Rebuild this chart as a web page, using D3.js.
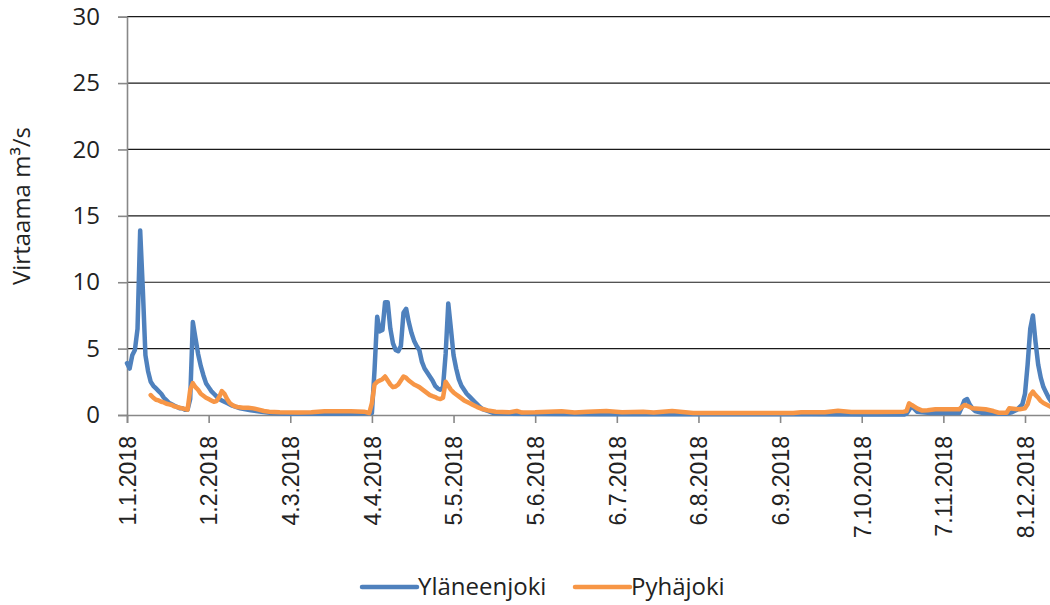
<!DOCTYPE html>
<html>
<head>
<meta charset="utf-8">
<script src="https://cdn.jsdelivr.net/npm/d3@7"></script>
<style>
  html, body { margin: 0; padding: 0; background: #fff; }
  svg { display: block; }
</style>
</head>
<body>
<svg id="chart" width="1050" height="605"></svg>
<script>
// ---- Data (day of year 2018, 0 = 1.1.2018) ----
const yTicks = [0, 5, 10, 15, 20, 25, 30];
const xTickDays = [0, 31, 62, 93, 124, 155, 186, 217, 248, 279, 310, 341];
const xTickLabels = ["1.1.2018", "1.2.2018", "4.3.2018", "4.4.2018", "5.5.2018", "5.6.2018",
                     "6.7.2018", "6.8.2018", "6.9.2018", "7.10.2018", "7.11.2018", "8.12.2018"];
const seriesNames = ["Yläneenjoki", "Pyhäjoki"];

const ylaDays = [0,1,2,3,4,5,6,7,8,9,10,11,12,13,14,15,16,17,18,19,20,21,22,23,24,25,26,27,28,29,30,31,32,33,34,35,36,37,38,40,43,47,51,55,60,70,80,88,93,
  94,95,96,97,98,99,100,101,102,103,104,105,106,107,108,109,110,111,112,113,114,115,116,117,118,119,120,121,122,123,124,125,126,127,128,129,130,131,132,133,134,135,137,139,145,160,180,200,220,240,260,280,295,
  296,297,298,299,300,305,316,317,318,319,320,321,322,325,334,336,338,340,341,342,343,344,345,346,347,348,349,350,351,352];
const ylaVals = [3.9,3.5,4.5,4.9,6.5,13.9,9.5,4.5,3.3,2.5,2.2,2.0,1.8,1.6,1.3,1.1,0.9,0.8,0.7,0.6,0.5,0.5,0.4,0.4,1.2,7.0,5.8,4.6,3.7,3.0,2.4,2.1,1.8,1.6,1.4,1.2,1.1,1.0,0.9,0.7,0.5,0.35,0.25,0.15,0.1,0.1,0.1,0.12,0.15,
  3.4,7.4,6.3,6.4,8.5,8.5,6.5,5.4,4.9,4.8,5.2,7.7,8.0,7.0,6.2,5.6,5.2,4.9,4.0,3.5,3.2,2.9,2.6,2.2,2.0,1.9,2.1,4.6,8.4,6.5,4.5,3.5,2.7,2.2,1.9,1.6,1.4,1.2,1.0,0.8,0.6,0.45,0.3,0.15,0.1,0.08,0.06,0.05,0.05,0.05,0.05,0.03,0.03,
  0.1,0.4,0.65,0.45,0.25,0.15,0.15,0.6,1.1,1.2,0.8,0.5,0.3,0.15,0.1,0.2,0.4,0.8,1.6,3.8,6.5,7.5,5.5,3.8,2.8,2.1,1.7,1.3,1.0,0.9];

const pyhaDays = [9,10,11,12,13,14,15,16,17,18,19,20,21,22,23,24,25,26,27,28,29,30,31,32,33,34,35,36,37,38,39,40,41,42,44,46,48,50,52,54,58,65,70,75,80,85,90,92,
  93,94,95,96,97,98,99,100,101,102,103,104,105,106,107,108,109,110,111,112,113,114,115,116,117,118,119,120,121,122,123,124,125,126,127,128,129,130,131,132,133,135,137,140,145,148,150,155,160,165,170,175,182,188,196,200,207,212,
  215,230,253,256,265,270,275,285,295,296,297,298,299,300,302,304,307,316,317,318,319,321,326,329,331,334,335,339,341,342,343,344,345,346,347,348,350,351,352];
const pyhaVals = [1.5,1.3,1.15,1.1,1.0,0.95,0.85,0.8,0.75,0.65,0.6,0.55,0.5,0.45,0.4,1.9,2.4,2.1,1.9,1.6,1.45,1.3,1.2,1.1,1.0,1.05,1.35,1.8,1.6,1.2,0.9,0.75,0.65,0.6,0.55,0.55,0.5,0.4,0.3,0.25,0.2,0.18,0.2,0.28,0.28,0.28,0.25,0.15,
  0.9,2.3,2.5,2.6,2.7,2.9,2.6,2.3,2.1,2.15,2.3,2.6,2.9,2.8,2.6,2.45,2.3,2.2,2.1,1.95,1.8,1.65,1.5,1.42,1.35,1.25,1.2,1.3,2.5,2.2,1.9,1.7,1.55,1.4,1.25,1.1,1.0,0.9,0.8,0.7,0.6,0.45,0.35,0.25,0.2,0.3,0.18,0.2,0.25,0.28,0.18,0.25,0.3,0.2,0.25,0.18,0.3,0.2,
  0.15,0.15,0.15,0.2,0.2,0.32,0.22,0.22,0.25,0.3,0.88,0.75,0.63,0.5,0.33,0.35,0.43,0.43,0.6,0.75,0.7,0.5,0.43,0.3,0.17,0.17,0.5,0.43,0.5,0.8,1.5,1.76,1.5,1.3,1.05,0.9,0.7,0.6,0.55];

// ---- Layout ----
const svg = d3.select("#chart");
const x = d3.scaleLinear().domain([0, 364]).range([127, 127 + 364 * (898 / 341)]);
const y = d3.scaleLinear().domain([0, 30]).range([415, 16.7]);

const blue = "#4f81bd", orange = "#f79646";
const tickFont = "'Open Sans', 'Noto Sans', sans-serif";

// gridlines
svg.append("g").selectAll("line").data(yTicks.filter(d => d > 0)).join("line")
  .attr("x1", 127).attr("x2", 1050)
  .attr("y1", d => y(d)).attr("y2", d => y(d))
  .attr("stroke", "#1a1a1a").attr("stroke-width", 1.2);

// y axis
const yAxis = svg.append("g").attr("transform", "translate(127,0)")
  .call(d3.axisLeft(y).tickValues(yTicks).tickSize(9).tickPadding(18).tickFormat(d3.format("d")));
yAxis.select(".domain").attr("stroke", "#888").attr("stroke-width", 1.6);
yAxis.selectAll(".tick line").attr("stroke", "#888").attr("stroke-width", 1.6);
yAxis.selectAll(".tick text").attr("font-family", tickFont).attr("font-size", 24).attr("fill", "#222");

// x axis
const xAxis = svg.append("g").attr("transform", "translate(0,415)")
  .call(d3.axisBottom(x).tickValues(xTickDays).tickSize(8).tickFormat((d, i) => xTickLabels[i]));
xAxis.select(".domain").attr("stroke", "#888").attr("stroke-width", 1.6);
xAxis.selectAll(".tick line").attr("stroke", "#888").attr("stroke-width", 1.6);
xAxis.selectAll(".tick text")
  .attr("font-family", "'Liberation Sans', Arial, sans-serif").attr("font-size", 23).attr("fill", "#222")
  .attr("text-anchor", "end")
  .attr("transform", "rotate(-90)")
  .attr("x", -21).attr("y", 0).attr("dy", "0.36em");

// lines
const line = d3.line().x(d => x(d[0])).y(d => y(d[1])).curve(d3.curveLinear);
const ylaData = ylaDays.map((d, i) => [d, ylaVals[i]]);
const pyhaData = pyhaDays.map((d, i) => [d, pyhaVals[i]]);

svg.append("path").datum(ylaData).attr("d", line)
  .attr("fill", "none").attr("stroke", blue).attr("stroke-width", 4.5)
  .attr("stroke-linejoin", "round").attr("stroke-linecap", "round");
svg.append("path").datum(pyhaData).attr("d", line)
  .attr("fill", "none").attr("stroke", orange).attr("stroke-width", 4.5)
  .attr("stroke-linejoin", "round").attr("stroke-linecap", "round");

// y title
svg.append("text")
  .attr("transform", "translate(22,206) rotate(-90)")
  .attr("text-anchor", "middle").attr("dy", "0.35em")
  .attr("font-family", tickFont).attr("font-size", 24).attr("fill", "#222")
  .text("Virtaama m³/s");

// legend
const legend = [
  { name: seriesNames[0], color: blue, x1: 362, x2: 417 },
  { name: seriesNames[1], color: orange, x1: 575, x2: 630 }
];
const lg = svg.append("g");
legend.forEach(l => {
  lg.append("line").attr("x1", l.x1).attr("x2", l.x2).attr("y1", 587).attr("y2", 587)
    .attr("stroke", l.color).attr("stroke-width", 4.5).attr("stroke-linecap", "round");
  lg.append("text").attr("x", l.x2 + 1).attr("y", 587).attr("dy", "0.35em")
    .attr("font-family", tickFont).attr("font-size", 24).attr("fill", "#222")
    .text(l.name);
});
</script>
</body>
</html>
